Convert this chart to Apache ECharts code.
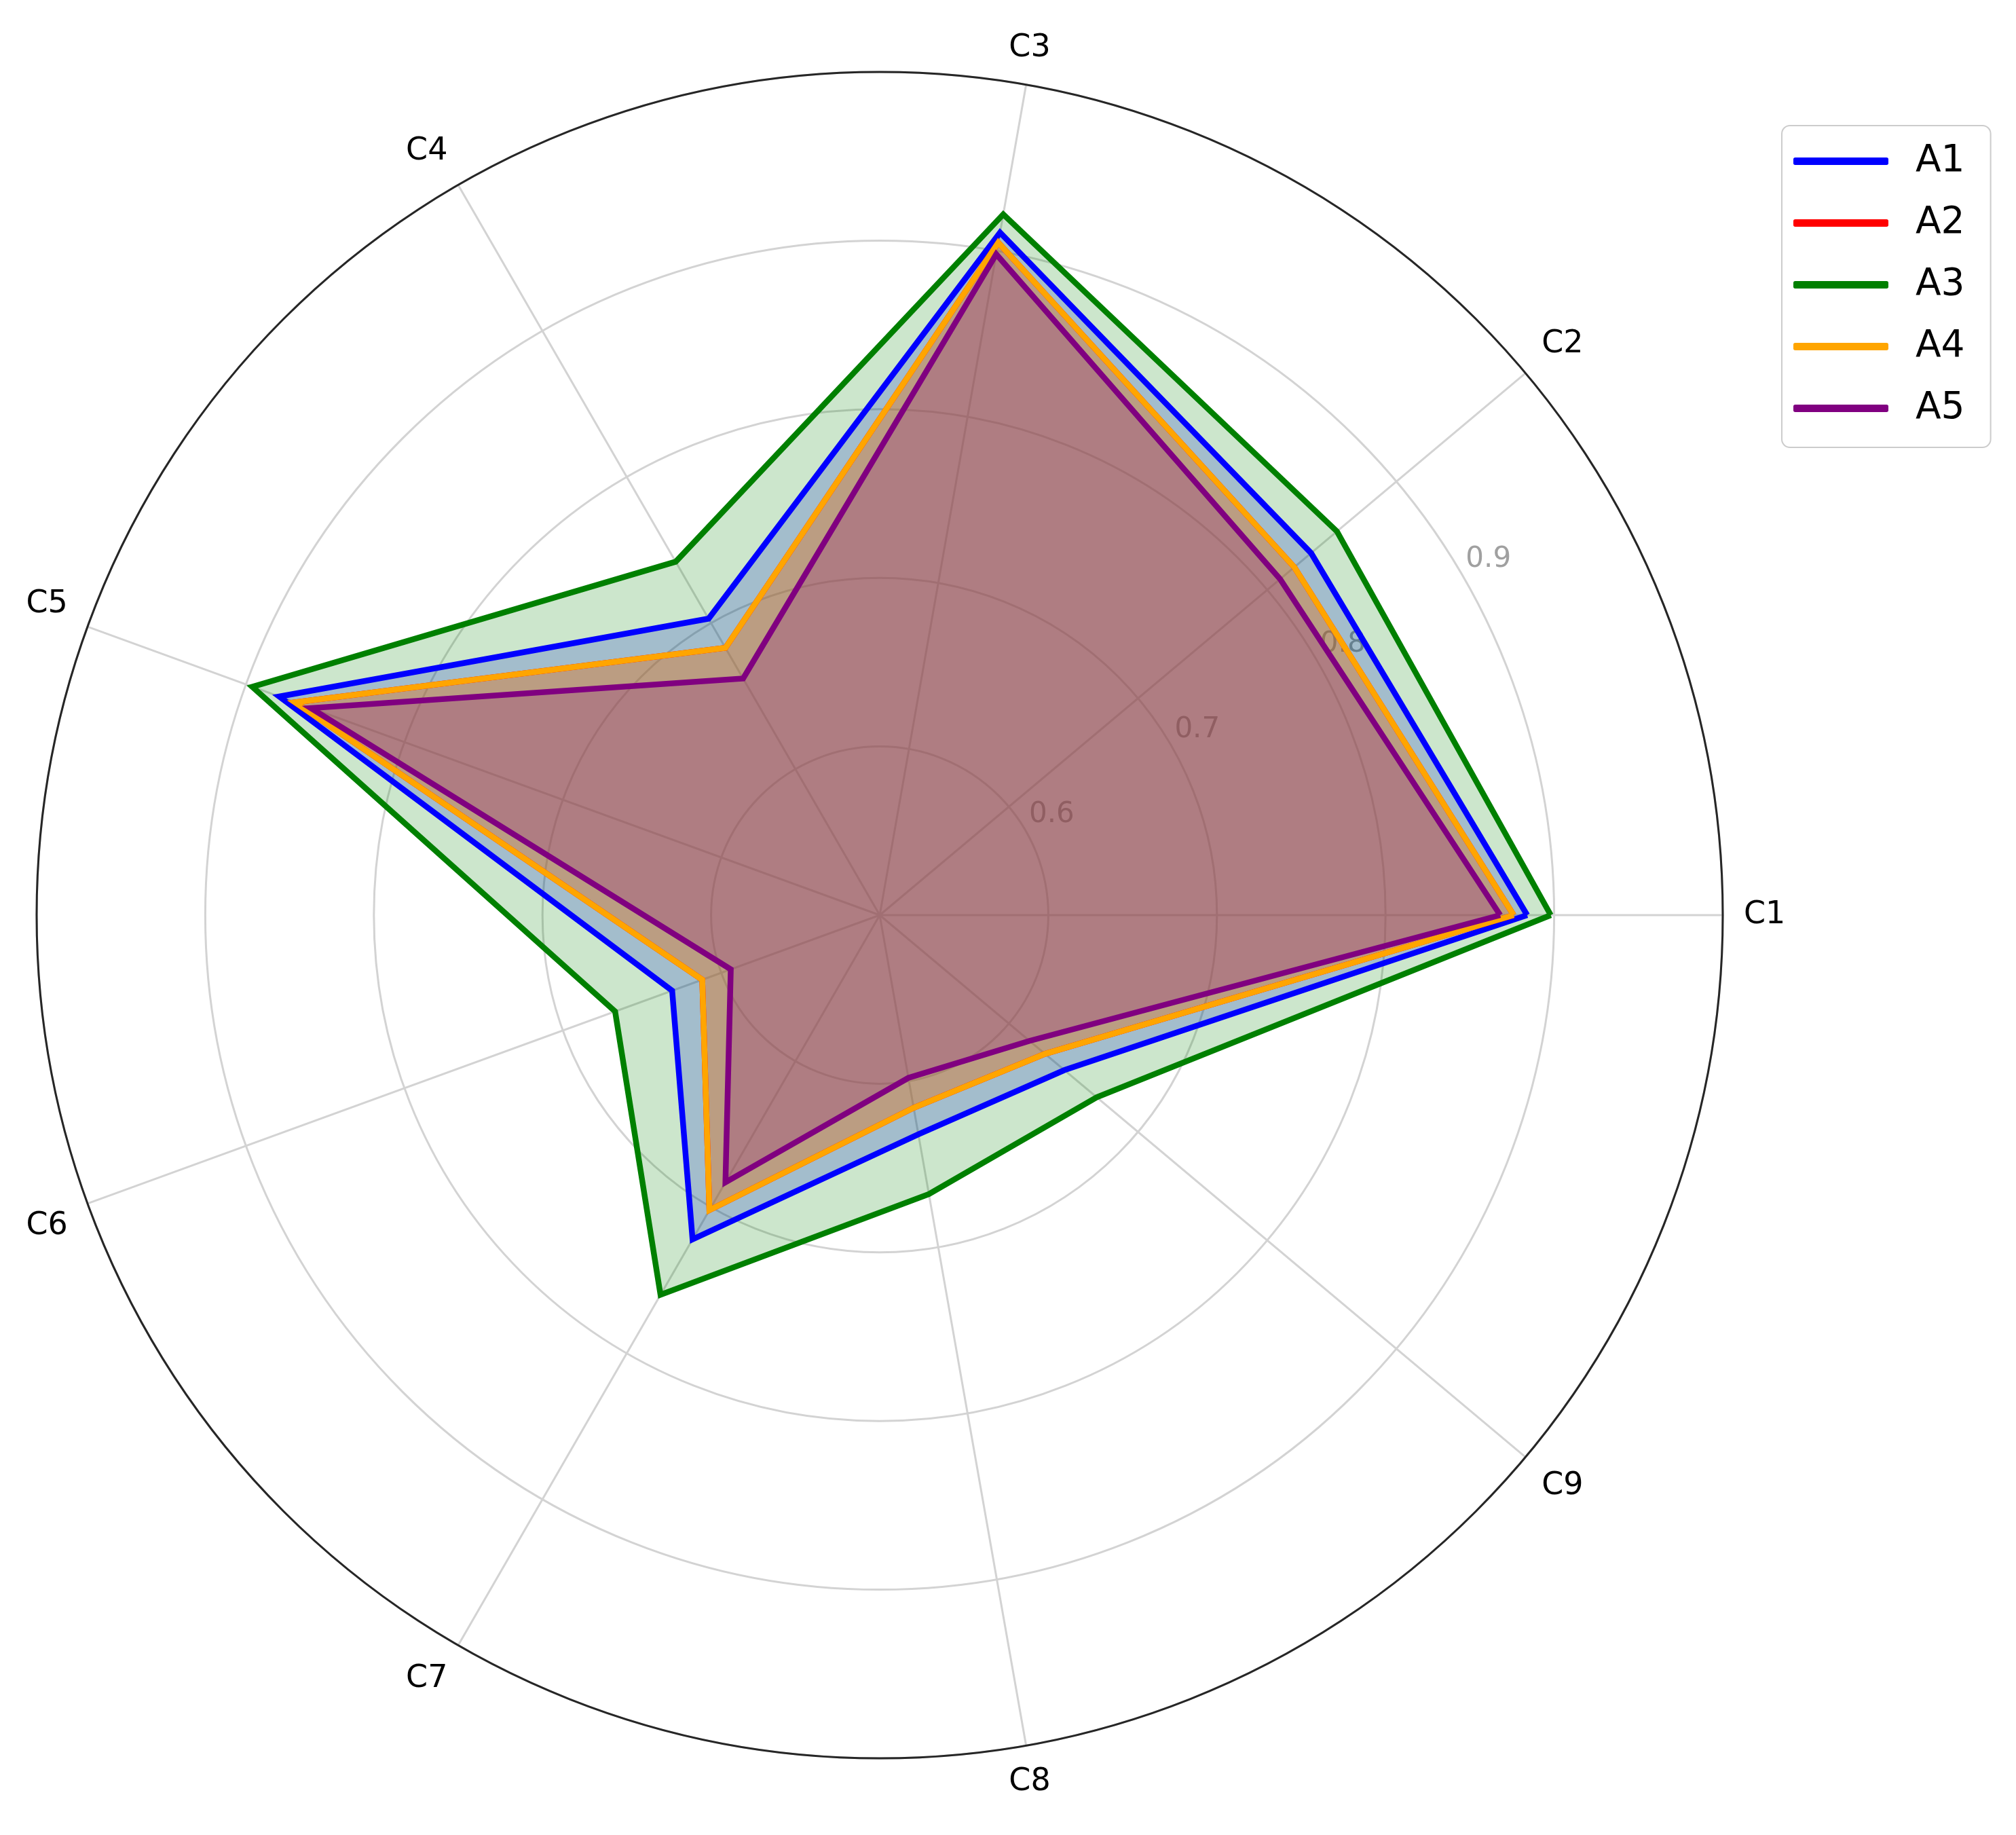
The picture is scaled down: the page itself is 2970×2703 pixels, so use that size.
<!DOCTYPE html>
<html>
<head>
<meta charset="utf-8">
<script src="https://cdn.jsdelivr.net/npm/echarts@6/dist/echarts.min.js"></script>
<style>
html,body{margin:0;padding:0;background:#fff;}
#chart{width:2970px;height:2703px;}
</style>
</head>
<body>
<div id="chart"></div>
<script>
const categories = ['C1','C2','C3','C4','C5','C6','C7','C8','C9'];
const seriesNames = ['A1','A2','A3','A4','A5'];
const A1 = [0.884, 0.834, 0.911, 0.703, 0.879, 0.631, 0.722, 0.632, 0.643];
const A2 = [0.876, 0.821, 0.905, 0.683, 0.869, 0.612, 0.702, 0.616, 0.628];
const A3 = [0.898, 0.854, 0.922, 0.742, 0.896, 0.667, 0.760, 0.668, 0.668];
const A4 = [0.876, 0.821, 0.905, 0.683, 0.869, 0.612, 0.702, 0.616, 0.628];
const A5 = [0.868, 0.810, 0.898, 0.662, 0.859, 0.594, 0.683, 0.598, 0.616];
const radialTicks = [0.6, 0.7, 0.8, 0.9];
const rMin = 0.5, rMax = 1.0, rStep = 0.1;

const seriesValues = [A1, A2, A3, A4, A5];
const colors = ['#0000ff', '#ff0000', '#008000', '#ffa500', '#800080'];
const step = 360 / categories.length;
const FONT = 'DejaVu Sans';

function toPolar(vals) {
  const d = vals.map((v, i) => [v, i * step]);
  d.push([vals[0], 360]);
  return d;
}

const areaSeries = seriesNames.map((n, k) => ({
  name: n + ' fill',
  type: 'line',
  coordinateSystem: 'polar',
  polarIndex: 0,
  data: toPolar(seriesValues[k]),
  showSymbol: false,
  symbol: 'none',
  silent: true,
  z: 2,
  lineStyle: { width: 0, opacity: 0 },
  itemStyle: { color: colors[k] },
  areaStyle: { color: colors[k], opacity: 0.2 }
}));

const lineSeries = seriesNames.map((n, k) => ({
  name: n,
  type: 'line',
  coordinateSystem: 'polar',
  polarIndex: 0,
  data: toPolar(seriesValues[k]),
  showSymbol: false,
  symbol: 'none',
  z: 3,
  itemStyle: { color: colors[k] },
  lineStyle: { color: colors[k], width: 8.5, join: 'miter' }
}));

const chart = echarts.init(document.getElementById('chart'), null, { renderer: 'canvas' });
chart.setOption({
  animation: false,
  backgroundColor: '#ffffff',
  polar: [
    { center: [1296, 1348], radius: [0, 1242] },
    { center: [1296, 1348], radius: [45, 1287] }
  ],
  angleAxis: [
    {
      polarIndex: 0,
      type: 'value',
      min: 0,
      max: 360,
      interval: step,
      startAngle: 0,
      clockwise: false,
      axisLine: { show: true, lineStyle: { color: '#262626', width: 3 } },
      axisTick: { show: false },
      splitLine: { show: true, lineStyle: { color: '#d3d3d3', width: 3 } },
      axisLabel: {
        show: true,
        margin: 31,
        fontSize: 46,
        fontFamily: FONT,
        color: '#000000',
        formatter: function (v) {
          const idx = Math.round(v / step);
          return (v < 360 && categories[idx]) ? categories[idx] : '';
        }
      }
    },
    {
      polarIndex: 1,
      type: 'value',
      min: 0,
      max: 360,
      startAngle: 30.3,
      clockwise: false,
      show: false
    }
  ],
  radiusAxis: [
    {
      polarIndex: 0,
      type: 'value',
      min: rMin,
      max: rMax,
      interval: rStep,
      axisLine: { show: false },
      axisTick: { show: false },
      axisLabel: { show: false },
      splitLine: { show: true, lineStyle: { color: '#d3d3d3', width: 3 } }
    },
    {
      polarIndex: 1,
      type: 'value',
      min: rMin,
      max: rMax,
      interval: rStep,
      z: 0,
      axisLine: { show: false },
      axisTick: { show: false },
      splitLine: { show: false },
      axisLabel: {
        show: true,
        margin: 0,
        align: 'center',
        verticalAlign: 'middle',
        fontSize: 42,
        fontFamily: FONT,
        color: '#a0a0a0',
        formatter: function (v) {
          const t = radialTicks.find(x => Math.abs(x - v) < 1e-6);
          return t !== undefined ? t.toFixed(1) : '';
        }
      }
    }
  ],
  legend: {
    orient: 'vertical',
    left: 2625,
    top: 185,
    padding: [25, 38, 30, 17],
    itemGap: 36,
    itemWidth: 140,
    itemHeight: 11,
    icon: 'roundRect',
    backgroundColor: '#ffffff',
    borderColor: '#cccccc',
    borderWidth: 2,
    borderRadius: 12,
    textStyle: { fontSize: 55, color: '#000000', fontFamily: FONT, padding: [0, 0, 0, 35] },
    data: seriesNames.map((n, k) => ({ name: n, itemStyle: { color: colors[k] } }))
  },
  series: areaSeries.concat(lineSeries)
});
</script>
</body>
</html>
